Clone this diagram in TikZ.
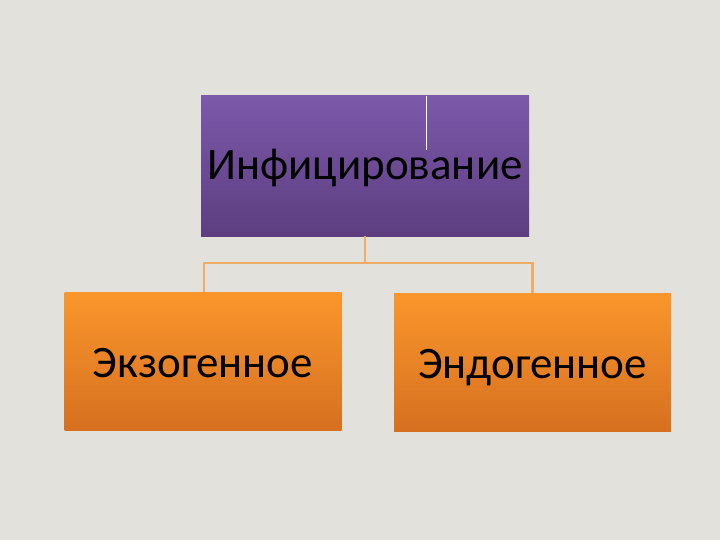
\documentclass[tikz,border=0pt]{standalone}
\usepackage{fontspec}
\setmainfont{Carlito}
\begin{document}
\begin{tikzpicture}[x=1pt,y=-1pt,
  topbox/.style={rectangle, minimum width=328pt, minimum height=140pt, inner sep=0pt, text height=28pt, text depth=0pt, top color=tpurple, bottom color=bpurple, font=\fontsize{45}{50}\selectfont},
  childbox/.style={rectangle, minimum width=277pt, minimum height=138pt, inner sep=0pt, text height=32pt, text depth=0pt, top color=torange, bottom color=borange, font=\fontsize{45}{50}\selectfont},
  conn/.style={draw=lorange, line width=2.2pt}]
\definecolor{bg}{RGB}{226,225,220}
\definecolor{tpurple}{RGB}{124,88,170}
\definecolor{bpurple}{RGB}{92,62,128}
\definecolor{torange}{RGB}{251,150,44}
\definecolor{borange}{RGB}{214,112,32}
\definecolor{lorange}{RGB}{238,172,105}
\fill[bg] (0,0) rectangle (720,540);
\useasboundingbox (0,0) rectangle (720,540);
\node[topbox] (top) at (365,166) {Инфицирование};
\node[childbox] (left) at (203,361) {Экзогенное};
\node[childbox] (right) at (532.5,362) {Эндогенное};
\draw[white, line width=1pt] (426,96) -- (426,150);
\coordinate (mid) at (top.south |- 0,263);
\draw[conn] (top.south) -- (mid);
\draw[conn] (left.north -| 204,0) |- (mid) -| (right.north);
\end{tikzpicture}
\end{document}
